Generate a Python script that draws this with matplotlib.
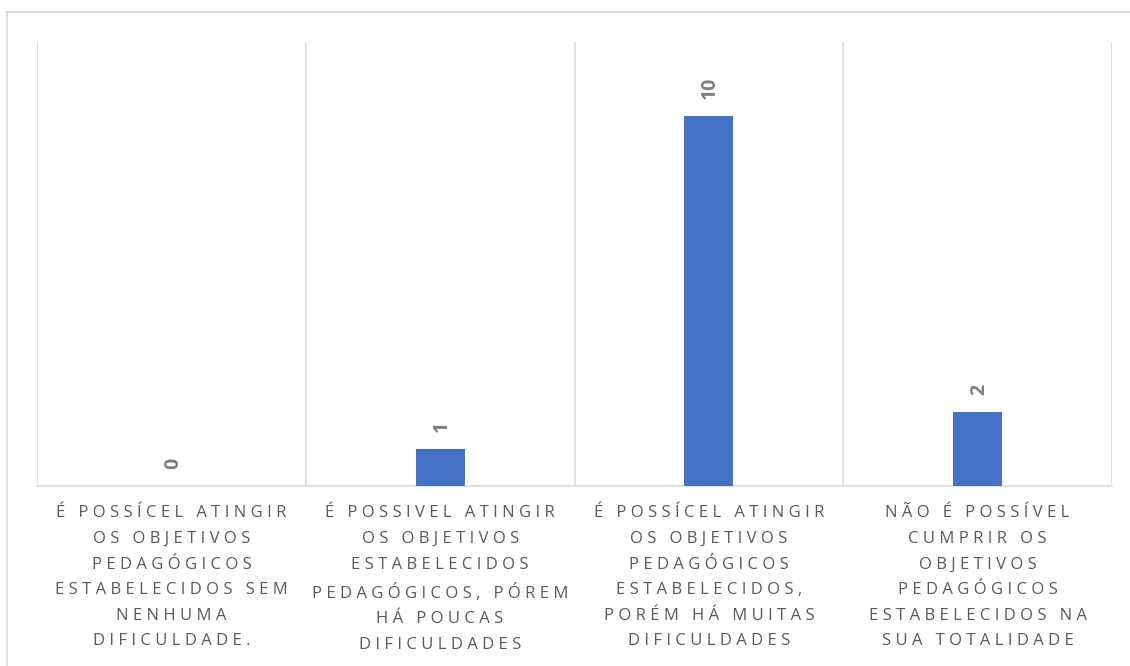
import matplotlib.pyplot as plt
from matplotlib.lines import Line2D

categories = [
    "É POSSÍCEL ATINGIR\nOS OBJETIVOS\nPEDAGÓGICOS\nESTABELECIDOS SEM\nNENHUMA\nDIFICULDADE.",
    "É POSSIVEL ATINGIR\nOS OBJETIVOS\nESTABELECIDOS\nPEDAGÓGICOS, PÓREM\nHÁ POUCAS\nDIFICULDADES",
    "É POSSÍCEL ATINGIR\nOS OBJETIVOS\nPEDAGÓGICOS\nESTABELECIDOS,\nPORÉM HÁ MUITAS\nDIFICULDADES",
    "NÃO É POSSÍVEL\nCUMPRIR OS\nOBJETIVOS\nPEDAGÓGICOS\nESTABELECIDOS NA\nSUA TOTALIDADE",
]
values = [0, 1, 10, 2]

FONT = ["Open Sans", "DejaVu Sans"]
GRID = "#d9d9d9"
BAR = "#4472c4"


def spaced(s):
    # imitate the letter spacing of the original labels
    return "\n".join("\u2009\u200a".join(line) for line in s.split("\n"))


fig = plt.figure(figsize=(11.3, 6.66), dpi=100)
# outer chart frame (only left and top edges are visible)
fig.add_artist(Line2D([7 / 1130, 7 / 1130], [0, 1 - 12 / 666], transform=fig.transFigure, color=GRID, lw=1.2))
fig.add_artist(Line2D([7 / 1130, 1], [1 - 12 / 666, 1 - 12 / 666], transform=fig.transFigure, color=GRID, lw=1.2))

ax = fig.add_axes([37 / 1130, 180 / 666, 1075 / 1130, 444 / 666])
x = list(range(len(values)))
ax.bar(x, values, width=0.182, color=BAR, zorder=3)
ax.set_xlim(-0.5, len(values) - 0.5)
ax.set_ylim(0, 12)

for xi, v in zip(x, values):
    ax.annotate(str(v), (xi, v), xytext=(1, 12), textcoords="offset points",
                rotation=90, ha="center", va="bottom", fontsize=14,
                fontweight="bold", color="#7f7f7f", family=FONT)

ax.set_xticks(x)
ax.set_xticklabels([spaced(c) for c in categories], fontsize=12, color="#595959",
                   family=FONT, linespacing=1.8)
ax.tick_params(axis="x", length=0, pad=14)
ax.set_xticks([i - 0.5 for i in range(len(values) + 1)], minor=True)
ax.tick_params(axis="x", which="minor", length=0)
ax.grid(axis="x", which="minor", color=GRID, lw=1.2, zorder=0)
ax.set_yticks([])
for side in ["left", "right", "top"]:
    ax.spines[side].set_visible(False)
ax.spines["bottom"].set_color(GRID)
ax.spines["bottom"].set_linewidth(1.2)

fig.savefig("out.png", dpi=100)
